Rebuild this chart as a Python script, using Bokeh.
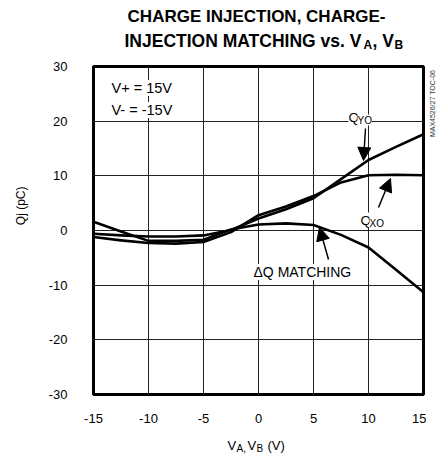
import math
from bokeh.plotting import figure
from bokeh.models import Label, Arrow, NormalHead, FixedTicker, Range1d
from bokeh.layouts import column, row
from bokeh.embed import file_html
from bokeh.resources import INLINE

# ---- data ----
v_ab = [-15, -12.5, -10, -7.5, -5, -2.5, 0, 2.5, 5, 7.5, 10, 12.5, 15]
q_yo = [-0.6, -0.9, -1.1, -1.1, -0.9, 0.1, 2.2, 3.9, 5.9, 9.4, 12.9, 15.3, 17.6]
q_xo = [-1.2, -1.8, -2.3, -2.4, -2.1, -0.3, 2.8, 4.4, 6.3, 8.8, 10.1, 10.2, 10.1]
dq_matching = [1.6, -0.2, -1.9, -1.9, -1.7, 0.2, 1.1, 1.3, 1.0, -0.8, -3.1, -7.2, -11.3]

x_ticks = [-15, -10, -5, 0, 5, 10, 15]
y_ticks = [-30, -20, -10, 0, 10, 20, 30]
x_tick_labels = ["-15", "-10", "-5", "0", "5", "10", "15"]
y_tick_labels = ["-30", "-20", "-10", "0", "10", "20", "30"]

FONT = "Liberation Sans"
BL = 5.5   # correction: rendered alphabetic baseline sits lower than requested


def blank_fig(w, h):
    f = figure(width=w, height=h, x_range=Range1d(0, w), y_range=Range1d(0, h),
               title=None, output_backend="svg", toolbar_location=None,
               x_axis_location=None, y_axis_location=None,
               min_border=0, min_border_left=0, min_border_right=0,
               min_border_top=0, min_border_bottom=0)
    f.grid.visible = False
    f.outline_line_color = None
    f.background_fill_color = "white"
    f.border_fill_color = "white"
    return f


def flabel(f, h, text, px, py, size="13px", style="normal", align="left",
           baseline="alphabetic", angle=0, color="black"):
    if baseline == "alphabetic":
        py = py - BL
    f.add_layout(Label(x=px, y=h - py, text=text, text_font=FONT,
                       text_font_size=size, text_font_style=style,
                       text_align=align, text_baseline=baseline,
                       angle=angle, text_color=color))


# ---------------- title figure (page y 0..58) ----------------
TH = 58
title_fig = blank_fig(438, TH)
flabel(title_fig, TH, "CHARGE INJECTION, CHARGE-", 256, 21, size="17px",
       style="bold", align="center")
flabel(title_fig, TH, "INJECTION MATCHING vs. V", 124, 46, size="17.5px", style="bold")
flabel(title_fig, TH, "A", 363, 49.5, size="12px", style="bold")
flabel(title_fig, TH, ", V", 372, 46, size="17.5px", style="bold")
flabel(title_fig, TH, "B", 394, 49.5, size="12px", style="bold")

# ---------------- middle row (page y 58..430) ----------------
MH = 372
ylab_fig = blank_fig(38, MH)
flabel(ylab_fig, MH, "Qj (pC)", 20, 216 - 58, size="12px", align="center",
       baseline="middle", angle=math.pi / 2)

wm_fig = blank_fig(12, MH)
flabel(wm_fig, MH, "MAX4526/27 TOC-06", 6, 100 - 58, size="7px", align="center",
       baseline="middle", angle=math.pi / 2, color="#333333")

p = figure(width=388, height=MH, title=None,
           x_range=Range1d(-15, 15), y_range=Range1d(-30, 30),
           output_backend="svg", toolbar_location=None,
           min_border_left=55, min_border_right=3,
           min_border_top=8, min_border_bottom=36)
p.background_fill_color = "white"
p.border_fill_color = "white"
p.outline_line_color = "black"
p.outline_line_width = 3

for ax in (p.xaxis[0], p.yaxis[0]):
    ax.axis_line_color = None
    ax.major_tick_line_color = None
    ax.minor_tick_line_color = None
    ax.major_tick_out = 0
    ax.major_tick_in = 0
    ax.minor_tick_out = 0
    ax.minor_tick_in = 0
    ax.major_label_text_font = FONT
    ax.major_label_text_font_size = "13px"
    ax.major_label_text_color = "black"

p.xaxis[0].ticker = FixedTicker(ticks=x_ticks)
p.yaxis[0].ticker = FixedTicker(ticks=y_ticks)
p.xaxis[0].major_label_overrides = {t: s for t, s in zip(x_ticks, x_tick_labels)}
p.yaxis[0].major_label_overrides = {t: s for t, s in zip(y_ticks, y_tick_labels)}
p.xaxis[0].major_label_standoff = 19
p.yaxis[0].major_label_standoff = 26

p.xgrid[0].ticker = FixedTicker(ticks=x_ticks)
p.ygrid[0].ticker = FixedTicker(ticks=y_ticks)
for g in (p.xgrid[0], p.ygrid[0]):
    g.grid_line_color = "#222222"
    g.grid_line_width = 1
    g.grid_line_alpha = 1

# curves
for series in (q_yo, q_xo, dq_matching):
    p.line(v_ab, series, line_color="black", line_width=2.6,
           line_join="round", line_cap="round")

# in-plot annotations, positioned in pixels relative to frame top-left (page 93, 66)
FX0, FY0 = 93, 66
SX = 330 / 30.0
SY = 328 / 60.0


def dx(px):
    return -15 + (px - FX0) / SX


def dy(py):
    return 30 - (py - FY0) / SY


def lbl(text, px, py, size="13px", bg=None):
    py = py - BL
    lab = Label(x=-15, y=30, x_offset=px - FX0, y_offset=FY0 - py,
                text=text, text_font=FONT, text_font_size=size,
                text_align="left", text_baseline="alphabetic", text_color="black")
    if bg:
        lab.background_fill_color = bg
    p.add_layout(lab)


lbl("V+ = 15V", 111, 93, size="14.5px", bg="white")
lbl("V- = -15V", 111, 115, size="14.5px", bg="white")
lbl("Q", 348, 122, size="13.5px", bg="white")
lbl("YO", 357, 125, size="10px", bg="white")
lbl("Q", 360, 225, size="13.5px", bg="white")
lbl("XO", 369, 228, size="10px", bg="white")
lbl("\u0394Q MATCHING", 253, 277, size="14px", bg="white")

for (x0, y0, x1, y1) in [(365, 128, 363, 160), (378, 207, 390, 178), (328, 259, 319, 227)]:
    p.add_layout(Arrow(x_start=dx(x0), y_start=dy(y0), x_end=dx(x1), y_end=dy(y1),
                       line_color="black", line_width=1.5,
                       end=NormalHead(size=13, fill_color="black", line_color="black")))

# ---------------- x-axis title figure (page y 430..456) ----------------
BH = 26
xlab_fig = blank_fig(438, BH)
flabel(xlab_fig, BH, "V", 227, 20.5, size="13px")
flabel(xlab_fig, BH, "A,", 236, 23, size="10px")
flabel(xlab_fig, BH, "V", 247, 20.5, size="13px")
flabel(xlab_fig, BH, "B", 256, 23, size="10px")
flabel(xlab_fig, BH, "(V)", 267, 20.5, size="13px")

layout = column(title_fig, row(ylab_fig, p, wm_fig), xlab_fig)
open("out.html", "w").write(file_html(layout, INLINE))
